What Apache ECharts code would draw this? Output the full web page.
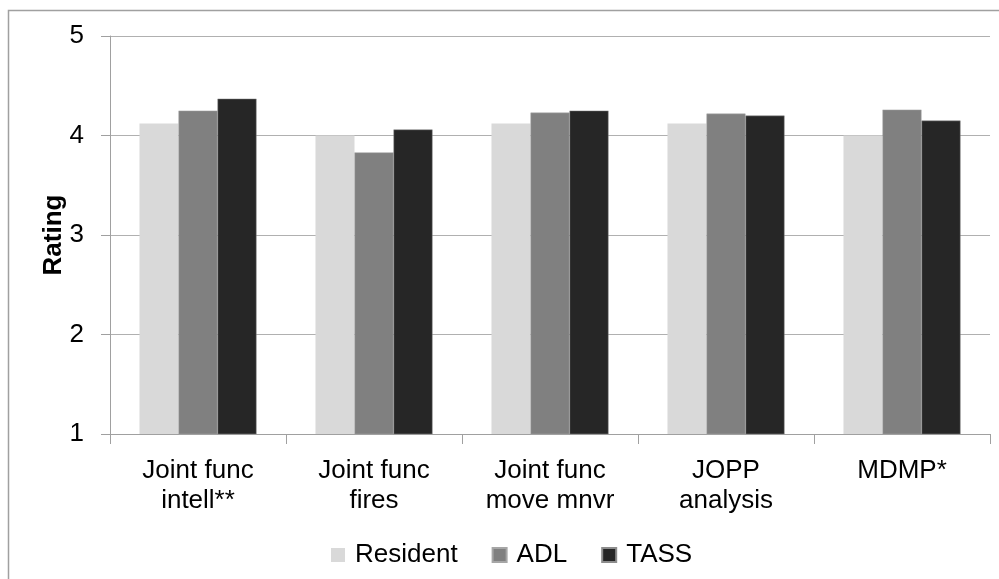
<!DOCTYPE html>
<html>
<head>
<meta charset="utf-8">
<script src="https://cdn.jsdelivr.net/npm/echarts@6/dist/echarts.min.js"></script>
<style>
html,body{margin:0;padding:0;background:#fff;}
#c{width:999px;height:579px;}
</style>
</head>
<body>
<div id="c"></div>
<script>
const categories = ['Joint func\nintell**', 'Joint func\nfires', 'Joint func\nmove mnvr', 'JOPP\nanalysis', 'MDMP*'];
const resident = [4.12, 4.00, 4.12, 4.12, 4.00];
const adl = [4.25, 3.83, 4.23, 4.22, 4.26];
const tass = [4.37, 4.06, 4.25, 4.20, 4.15];
const yTicks = [1, 2, 3, 4, 5];

const font = 'Liberation Sans, Arial, sans-serif';
const chart = echarts.init(document.getElementById('c'), null, {renderer: 'canvas'});
chart.setOption({
  animation: false,
  backgroundColor: '#fff',
  textStyle: {fontFamily: font},
  graphic: [{
    type: 'rect', silent: true, z: -1,
    shape: {x: 8.5, y: 10.5, width: 1200, height: 1200},
    style: {fill: 'none', stroke: '#a0a0a0', lineWidth: 1.5}
  }],
  grid: {left: 110, right: 9, top: 36, bottom: 145, containLabel: false},
  legend: {
    left: 326, top: 537,
    icon: 'rect', itemWidth: 14, itemHeight: 14, itemGap: 34,
    textStyle: {fontSize: 26, color: '#000', fontFamily: font, padding: [0, 0, 0, 5]},
    data: ['Resident', 'ADL', 'TASS']
  },
  xAxis: {
    type: 'category',
    data: categories,
    axisLine: {lineStyle: {color: '#a0a0a0', width: 1}},
    axisTick: {show: true, length: 10, lineStyle: {color: '#a0a0a0'}},
    axisLabel: {fontSize: 26, color: '#000', margin: 22, lineHeight: 30, interval: 0, fontFamily: font}
  },
  yAxis: {
    type: 'value', min: yTicks[0], max: yTicks[yTicks.length - 1], interval: 1,
    name: 'Rating', nameLocation: 'middle', nameGap: 43, nameRotate: 90, nameMoveOverlap: false,
    nameTextStyle: {fontSize: 26, fontWeight: 'bold', color: '#000', fontFamily: font},
    axisLine: {show: true, lineStyle: {color: '#a0a0a0', width: 1}},
    axisTick: {show: true, length: 9, lineStyle: {color: '#a0a0a0'}},
    axisLabel: {fontSize: 26, color: '#000', margin: 26, fontFamily: font},
    splitLine: {lineStyle: {color: '#b0b0b0', width: 1}}
  },
  series: [
    {name: 'Resident', type: 'bar', data: resident, barGap: '0%', barCategoryGap: '33.5%',
     itemStyle: {color: '#d9d9d9'}},
    {name: 'ADL', type: 'bar', data: adl, barGap: '0%', barCategoryGap: '33.5%',
     itemStyle: {color: '#808080', borderColor: '#a6a6a6', borderWidth: 0.5}},
    {name: 'TASS', type: 'bar', data: tass, barGap: '0%', barCategoryGap: '33.5%',
     itemStyle: {color: '#262626', borderColor: '#8c8c8c', borderWidth: 0.5}}
  ]
});
</script>
</body>
</html>
